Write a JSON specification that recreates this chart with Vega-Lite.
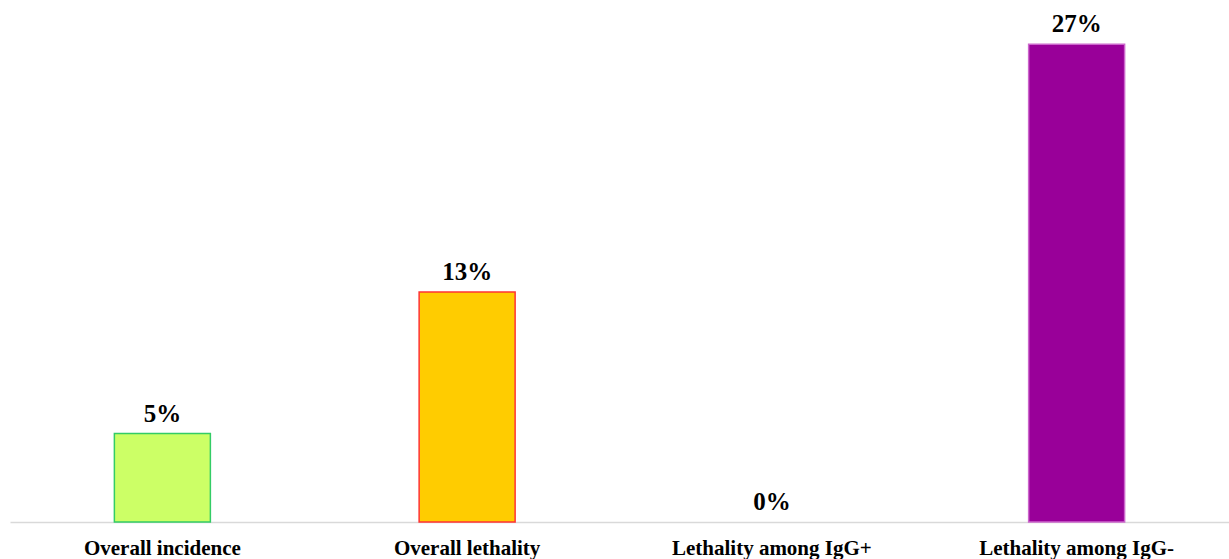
{
  "$schema": "https://vega.github.io/schema/vega-lite/v6.json",
  "autosize": "none",
  "width": 1219,
  "height": 522,
  "padding": {"left": 10, "top": 0, "right": 0, "bottom": 37},
  "background": "white",
  "config": {
    "view": {"stroke": null},
    "font": "Liberation Serif"
  },
  "data": {
    "values": [
      {"measure": "Overall incidence", "pct": 5, "label": "5%"},
      {"measure": "Overall lethality", "pct": 13, "label": "13%"},
      {"measure": "Lethality among IgG+", "pct": 0, "label": "0%"},
      {"measure": "Lethality among IgG-", "pct": 27, "label": "27%"}
    ]
  },
  "encoding": {
    "x": {
      "field": "measure",
      "type": "nominal",
      "sort": null,
      "scale": {"paddingInner": 0.685, "paddingOuter": 0.3425},
      "axis": {
        "title": null,
        "labelAngle": 0,
        "labelFont": "Liberation Serif",
        "labelFontSize": 21,
        "labelFontWeight": "bold",
        "labelColor": "black",
        "labelLimit": 0,
        "labelPadding": 15,
        "ticks": false,
        "domainColor": "#d9d9d9",
        "domainWidth": 1.5,
        "grid": false
      }
    },
    "y": {
      "field": "pct",
      "type": "quantitative",
      "scale": {"domain": [0, 29.5], "nice": false},
      "axis": null
    }
  },
  "layer": [
    {
      "mark": {"type": "bar", "strokeWidth": 1.5},
      "encoding": {
        "fill": {
          "field": "measure",
          "type": "nominal",
          "scale": {
            "domain": ["Overall incidence", "Overall lethality", "Lethality among IgG+", "Lethality among IgG-"],
            "range": ["#ccff66", "#ffcc00", "transparent", "#990099"]
          },
          "legend": null
        },
        "stroke": {
          "field": "measure",
          "type": "nominal",
          "scale": {
            "domain": ["Overall incidence", "Overall lethality", "Lethality among IgG+", "Lethality among IgG-"],
            "range": ["#33cc66", "#ff3333", "transparent", "#cc66cc"]
          },
          "legend": null
        }
      }
    },
    {
      "mark": {
        "type": "text",
        "baseline": "bottom",
        "dy": -7,
        "font": "Liberation Serif",
        "fontSize": 25,
        "fontWeight": "bold",
        "color": "black"
      },
      "encoding": {
        "text": {"field": "label"}
      }
    }
  ]
}
